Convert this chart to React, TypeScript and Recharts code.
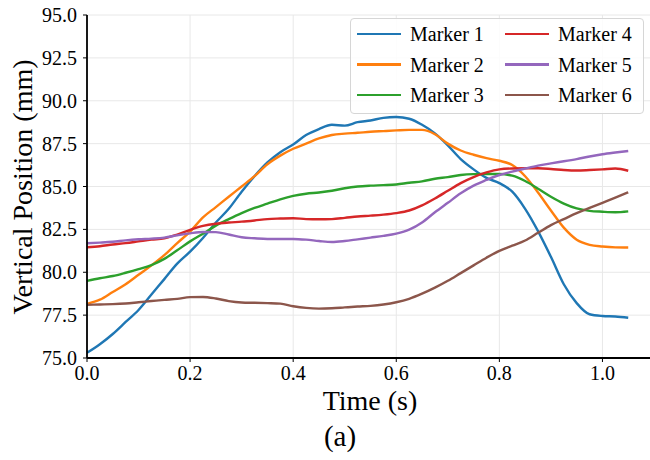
import React from "react";
import { LineChart, Line, XAxis, YAxis, CartesianGrid } from "recharts";

// time samples (s)
const times = [
  0, 0.025, 0.05, 0.075, 0.1, 0.125, 0.15, 0.175, 0.2, 0.225, 0.25, 0.275, 0.3, 0.325, 0.35,
  0.375, 0.4, 0.425, 0.45, 0.475, 0.5, 0.525, 0.55, 0.575, 0.6, 0.625, 0.65, 0.675, 0.7,
  0.725, 0.75, 0.775, 0.8, 0.825, 0.85, 0.875, 0.9, 0.925, 0.95, 0.975, 1.0, 1.025, 1.05,
];

// vertical position per marker (mm)
const marker1 = [
  75.3, 75.8, 76.4, 77.1, 77.8, 78.7, 79.6, 80.5, 81.2, 82.0, 82.9, 83.7, 84.7, 85.6, 86.4,
  87.0, 87.45, 88.0, 88.35, 88.6, 88.55, 88.75, 88.85, 89.0, 89.05, 88.95, 88.6, 88.1, 87.4,
  86.6, 86.0, 85.5, 85.2, 84.7, 83.7, 82.4, 80.9, 79.3, 78.2, 77.55, 77.45, 77.42, 77.35,
];
const marker2 = [
  78.16, 78.4, 78.85, 79.3, 79.85, 80.4, 81.0, 81.7, 82.37, 83.2, 83.8, 84.4, 85.0, 85.6,
  86.3, 86.8, 87.2, 87.5, 87.8, 88.0, 88.08, 88.13, 88.19, 88.23, 88.27, 88.3, 88.3, 88.05,
  87.5, 87.1, 86.85, 86.65, 86.5, 86.25, 85.6, 84.65, 83.6, 82.6, 81.9, 81.6, 81.5, 81.45, 81.44,
];
const marker3 = [
  79.5, 79.65, 79.78, 79.97, 80.18, 80.42, 80.78, 81.28, 81.8, 82.25, 82.72, 83.1, 83.45,
  83.75, 84.0, 84.25, 84.45, 84.58, 84.65, 84.75, 84.9, 85.0, 85.05, 85.08, 85.12, 85.22,
  85.3, 85.45, 85.55, 85.67, 85.72, 85.73, 85.73, 85.63, 85.32, 84.87, 84.4, 84.0, 83.72,
  83.58, 83.53, 83.5, 83.55,
];
const marker4 = [
  81.46, 81.52, 81.62, 81.7, 81.8, 81.9, 81.98, 82.2, 82.47, 82.7, 82.83, 82.9, 82.95, 83.02,
  83.1, 83.13, 83.15, 83.1, 83.09, 83.1, 83.17, 83.25, 83.3, 83.36, 83.45, 83.6, 83.9, 84.3,
  84.75, 85.2, 85.55, 85.82, 86.0, 86.05, 86.06, 86.06, 86.02, 85.96, 85.93, 85.96, 86.0,
  86.05, 85.92,
];
const marker5 = [
  81.69, 81.73, 81.78, 81.86, 81.92, 81.96, 82.02, 82.15, 82.27, 82.35, 82.34, 82.2, 82.04,
  81.98, 81.94, 81.94, 81.94, 81.9, 81.82, 81.76, 81.82, 81.92, 82.02, 82.12, 82.25, 82.48,
  82.9, 83.5, 84.05, 84.6, 85.05, 85.38, 85.67, 85.87, 86.05, 86.22, 86.35, 86.47, 86.6,
  86.75, 86.88, 86.98, 87.07,
];
const marker6 = [
  78.1, 78.12, 78.14, 78.18, 78.25, 78.32, 78.39, 78.45, 78.55, 78.56, 78.47, 78.32, 78.24,
  78.22, 78.2, 78.17, 78.02, 77.92, 77.88, 77.9, 77.95, 78.0, 78.04, 78.12, 78.25, 78.45,
  78.75, 79.1, 79.5, 79.95, 80.4, 80.85, 81.25, 81.55, 81.85, 82.3, 82.75, 83.1, 83.45,
  83.75, 84.05, 84.35, 84.66,
];

const xTicks = [0, 0.2, 0.4, 0.6, 0.8, 1.0];
const yTicks = [75, 77.5, 80, 82.5, 85, 87.5, 90, 92.5, 95];

const series = [
  { key: "m1", name: "Marker 1", values: marker1, color: "#1f77b4" },
  { key: "m2", name: "Marker 2", values: marker2, color: "#ff7f0e" },
  { key: "m3", name: "Marker 3", values: marker3, color: "#2ca02c" },
  { key: "m4", name: "Marker 4", values: marker4, color: "#d62728" },
  { key: "m5", name: "Marker 5", values: marker5, color: "#9467bd" },
  { key: "m6", name: "Marker 6", values: marker6, color: "#8c564b" },
];

const data = times.map((t, i) => {
  const row: Record<string, number> = { t };
  series.forEach((s) => (row[s.key] = s.values[i]));
  return row;
});

const FONT = "'Liberation Serif', 'Times New Roman', serif";
const css = `
  body, .fig, .fig * { font-family: ${FONT} !important; }
  .recharts-cartesian-axis-tick-value, .recharts-text { font-family: ${FONT} !important; }
`;
const tickStyle = { fill: "#000", fontSize: 20, fontFamily: FONT };

const App = () => {
  return (
    <div
      className="fig"
      style={{
        position: "absolute",
        left: 0,
        top: 0,
        width: 650,
        height: 460,
        overflow: "hidden",
        background: "#fff",
      }}
    >
      <style>{css}</style>
      <LineChart
        width={660}
        height={460}
        data={data}
        margin={{ top: 15, right: 6, bottom: 72, left: 16 }}
        style={{ fontFamily: FONT }}
      >
        <CartesianGrid stroke="#e8e8e8" strokeWidth={1} />
        <XAxis
          dataKey="t"
          type="number"
          domain={[0, 1.1]}
          ticks={xTicks}
          tickFormatter={(v: number) => v.toFixed(1)}
          height={30}
          tick={tickStyle}
          tickSize={4}
          tickMargin={4}
          axisLine={{ stroke: "#000", strokeWidth: 1.8 }}
          tickLine={{ stroke: "#000", strokeWidth: 1 }}
        />
        <YAxis
          type="number"
          domain={[75, 95]}
          ticks={yTicks}
          tickFormatter={(v: number) => v.toFixed(1)}
          width={71}
          tick={tickStyle}
          tickSize={4}
          tickMargin={6}
          axisLine={{ stroke: "#000", strokeWidth: 1.8 }}
          tickLine={{ stroke: "#000", strokeWidth: 1 }}
          allowDataOverflow
        />
        {series.map((s) => (
          <Line
            key={s.key}
            dataKey={s.key}
            name={s.name}
            type="monotone"
            stroke={s.color}
            strokeWidth={2.4}
            dot={false}
            isAnimationActive={false}
          />
        ))}
      </LineChart>

      <svg
        width={650}
        height={460}
        style={{ position: "absolute", left: 0, top: 0, pointerEvents: "none" }}
      >
        <text
          x={32}
          y={187}
          transform="rotate(-90, 32, 187)"
          textAnchor="middle"
          fontSize={28}
          fill="#000"
        >
          Vertical Position (mm)
        </text>
        <text x={370} y={410} textAnchor="middle" fontSize={28} fill="#000">
          Time (s)
        </text>
        <text x={340} y={446} textAnchor="middle" fontSize={29} fill="#000">
          (a)
        </text>
      </svg>

      <div
        style={{
          position: "absolute",
          left: 350,
          top: 18,
          width: 292,
          height: 94,
          border: "1px solid #d6d6d6",
          borderRadius: 4,
          background: "rgba(255,255,255,0.85)",
        }}
      >
        {series.map((s, i) => {
          const col = Math.floor(i / 3);
          const row = i % 3;
          const cy = 15 + row * 30.5;
          const lx = col === 0 ? 6 : 154;
          return (
            <React.Fragment key={s.key}>
              <div
                style={{
                  position: "absolute",
                  left: lx,
                  top: cy - 1.4,
                  width: 44,
                  height: 2.8,
                  background: s.color,
                }}
              />
              <div
                style={{
                  position: "absolute",
                  left: lx + 53,
                  top: cy - 10,
                  fontSize: 20,
                  lineHeight: "20px",
                  whiteSpace: "nowrap",
                  color: "#000",
                }}
              >
                {s.name}
              </div>
            </React.Fragment>
          );
        })}
      </div>
    </div>
  );
};

export default App;
